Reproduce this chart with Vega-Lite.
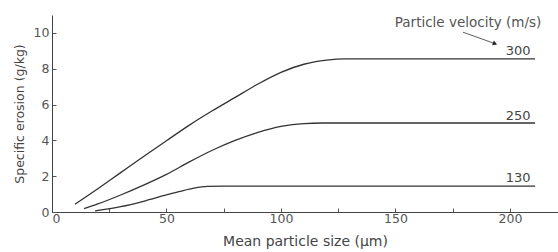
{
  "$schema": "https://vega.github.io/schema/vega-lite/v6.json",
  "width": 506,
  "height": 197,
  "autosize": {"type": "none"},
  "padding": {"left": 52, "top": 15, "right": 0, "bottom": 40},
  "background": "white",
  "config": {
    "view": {"stroke": null},
    "font": "DejaVu Sans",
    "axis": {"domainColor": "#444", "tickColor": "#555", "labelColor": "#555", "titleColor": "#444", "labelFontSize": 12.5, "titleFontSize": 13, "titleFontWeight": "normal", "grid": false, "labelOverlap": false}
  },
  "datasets": {
    "curves": [
      {"size": 10, "erosion": 0.43, "velocity": "300"},
      {"size": 20, "erosion": 1.3, "velocity": "300"},
      {"size": 30, "erosion": 2.2, "velocity": "300"},
      {"size": 40, "erosion": 3.1, "velocity": "300"},
      {"size": 50, "erosion": 3.98, "velocity": "300"},
      {"size": 60, "erosion": 4.85, "velocity": "300"},
      {"size": 70, "erosion": 5.65, "velocity": "300"},
      {"size": 80, "erosion": 6.4, "velocity": "300"},
      {"size": 90, "erosion": 7.15, "velocity": "300"},
      {"size": 100, "erosion": 7.8, "velocity": "300"},
      {"size": 110, "erosion": 8.25, "velocity": "300"},
      {"size": 120, "erosion": 8.48, "velocity": "300"},
      {"size": 128, "erosion": 8.55, "velocity": "300"},
      {"size": 211, "erosion": 8.55, "velocity": "300"},
      {"size": 14, "erosion": 0.19, "velocity": "250"},
      {"size": 20, "erosion": 0.45, "velocity": "250"},
      {"size": 30, "erosion": 0.95, "velocity": "250"},
      {"size": 40, "erosion": 1.5, "velocity": "250"},
      {"size": 50, "erosion": 2.1, "velocity": "250"},
      {"size": 60, "erosion": 2.8, "velocity": "250"},
      {"size": 70, "erosion": 3.45, "velocity": "250"},
      {"size": 80, "erosion": 4.0, "velocity": "250"},
      {"size": 90, "erosion": 4.45, "velocity": "250"},
      {"size": 100, "erosion": 4.78, "velocity": "250"},
      {"size": 110, "erosion": 4.94, "velocity": "250"},
      {"size": 118, "erosion": 4.97, "velocity": "250"},
      {"size": 211, "erosion": 4.97, "velocity": "250"},
      {"size": 18.8, "erosion": 0.06, "velocity": "130"},
      {"size": 30, "erosion": 0.3, "velocity": "130"},
      {"size": 40, "erosion": 0.6, "velocity": "130"},
      {"size": 50, "erosion": 0.95, "velocity": "130"},
      {"size": 56, "erosion": 1.15, "velocity": "130"},
      {"size": 62, "erosion": 1.33, "velocity": "130"},
      {"size": 68, "erosion": 1.43, "velocity": "130"},
      {"size": 75, "erosion": 1.45, "velocity": "130"},
      {"size": 211, "erosion": 1.45, "velocity": "130"}
    ],
    "labels": [
      {"size": 209, "erosion": 9.0, "text": "300"},
      {"size": 209, "erosion": 5.35, "text": "250"},
      {"size": 209, "erosion": 1.88, "text": "130"}
    ],
    "title": [
      {"size": 181.7, "erosion": 10.55, "text": "Particle velocity (m/s)"}
    ],
    "arrow": [
      {"size": 179.5, "erosion": 10.04, "size2": 193.5, "erosion2": 9.4}
    ],
    "arrowhead": [
      {"size": 193.5, "erosion": 9.4}
    ]
  },
  "encoding": {
    "x": {"field": "size", "type": "quantitative", "scale": {"domain": [0, 221], "nice": false},
          "axis": {"values": [0, 25, 50, 75, 100, 125, 150, 175, 200], "labelExpr": "datum.value % 50 === 0 ? datum.label : ''", "tickSize": -4, "labelPadding": 4, "labelOverlap": false, "title": "Mean particle size (µm)", "titleFontSize": 14, "titlePadding": 10}},
    "y": {"field": "erosion", "type": "quantitative", "scale": {"domain": [0, 11], "nice": false},
          "axis": {"values": [0, 2, 4, 6, 8, 10], "tickSize": -4, "labelPadding": 7, "labelOverlap": false, "labelFlush": false, "title": "Specific erosion (g/kg)", "titleFontSize": 12.5, "titlePadding": 7}}
  },
  "layer": [
    {
      "data": {"name": "curves"},
      "mark": {"type": "line", "interpolate": "monotone", "color": "#333", "strokeWidth": 1.3},
      "encoding": {
        "detail": {"field": "velocity"}
      }
    },
    {
      "data": {"name": "labels"},
      "mark": {"type": "text", "align": "right", "baseline": "middle", "fontSize": 13, "color": "#444"},
      "encoding": {
        "text": {"field": "text"}
      }
    },
    {
      "data": {"name": "title"},
      "mark": {"type": "text", "align": "center", "baseline": "middle", "fontSize": 13.5, "color": "#555"},
      "encoding": {
        "text": {"field": "text"}
      }
    },
    {
      "data": {"name": "arrow"},
      "mark": {"type": "rule", "color": "#333", "strokeWidth": 0.8},
      "encoding": {
        "x2": {"field": "size2"},
        "y2": {"field": "erosion2"}
      }
    },
    {
      "data": {"name": "arrowhead"},
      "mark": {"type": "point", "shape": "triangle-right", "filled": true, "color": "#222", "size": 25, "angle": 20, "opacity": 1},
      "encoding": {}
    }
  ]
}
